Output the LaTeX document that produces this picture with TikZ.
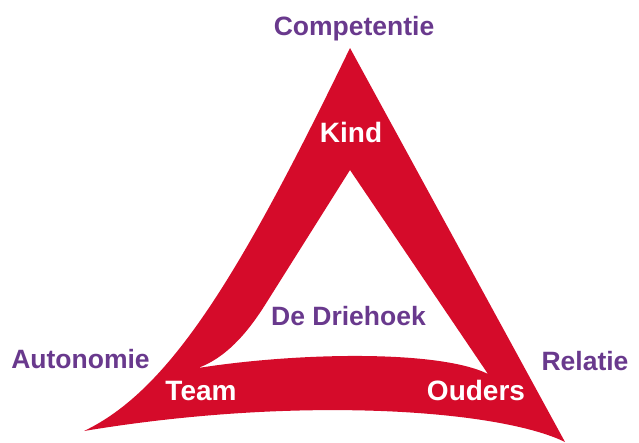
\documentclass[tikz,border=0pt]{standalone}
\usepackage{fontspec}
\setmainfont{Liberation Sans}
\definecolor{trired}{RGB}{213,11,42}
\definecolor{lblpurple}{RGB}{105,57,141}
\begin{document}
\begin{tikzpicture}[x=1pt,y=-1pt,
  purplelabel/.style={text=lblpurple, font=\bfseries\fontsize{26.5}{30}\selectfont, anchor=base, inner sep=0pt},
  whitelabel/.style={text=white, font=\bfseries\fontsize{28}{32}\selectfont, anchor=base, inner sep=0pt}]
\useasboundingbox (0,0) rectangle (639,442);
\fill[trired, even odd rule]
  (350,48) -- (565,442) .. controls (500,410) and (300,395) .. (84,431)
  .. controls (170,390) and (240,275) .. (350,48) -- cycle
  (350,170) -- (488,374) .. controls (440,350) and (300,352) .. (198,368)
  .. controls (225,358) and (246,335) .. (265,305) -- cycle;
\node[purplelabel] (comp) at (354,35) {Competentie};
\node[whitelabel] (kind) at (351,142) {Kind};
\node[purplelabel] (drie) at (348.5,325) {De Driehoek};
\node[whitelabel] (team) at (201,400) {Team};
\node[whitelabel] (ouders) at (476,400) {Ouders};
\node[purplelabel] (auto) at (80.5,368) {Autonomie};
\node[purplelabel] (rel) at (585,370) {Relatie};
\end{tikzpicture}
\end{document}
